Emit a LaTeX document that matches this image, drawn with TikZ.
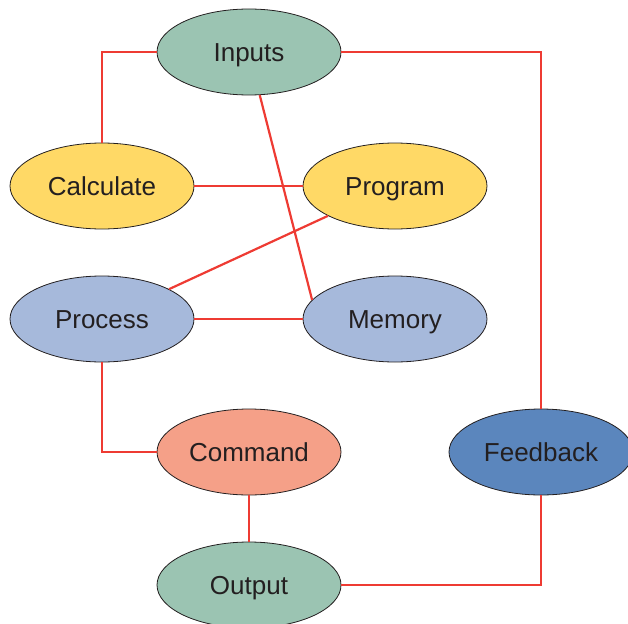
\documentclass[tikz,border=0pt]{standalone}
\usepackage{fontspec}
\setmainfont{Liberation Sans}
\usepackage{xcolor}
\usepackage{tikz}
\usetikzlibrary{shapes.geometric}

\definecolor{sage}{HTML}{9BC4B2}
\definecolor{butter}{HTML}{FFD966}
\definecolor{lavblue}{HTML}{A6B9DB}
\definecolor{salmon}{HTML}{F5A088}
\definecolor{steel}{HTML}{5B86BD}
\definecolor{linkred}{HTML}{EE3B33}
\definecolor{ink}{HTML}{231F20}

\begin{document}
\begin{tikzpicture}[x=1pt, y=-1pt, font=\fontsize{26}{30}\selectfont,
  blob/.style={ellipse, draw=ink, line width=0.8pt, text=ink, inner sep=0pt, text height=18.6pt, text depth=0pt, minimum width=184pt, minimum height=86pt},
  link/.style={draw=linkred, line width=2.2pt}]
\path[use as bounding box, clip] (0,0) rectangle (628,623);
\node[blob, fill=sage] (inputs) at (249,52) {Inputs};
\node[blob, fill=butter] (calc) at (102,186) {Calculate};
\node[blob, fill=butter] (prog) at (395,186) {Program};
\node[blob, fill=lavblue] (process) at (102,319) {Process};
\node[blob, fill=lavblue] (memory) at (395,319) {Memory};
\node[blob, fill=salmon] (command) at (249,452) {Command};
\node[blob, fill=steel] (feedback) at (541,452) {Feedback};
\node[blob, fill=sage] (output) at (249,585) {Output};
\path[link] (inputs) -| (calc); \path[link] (inputs) -| (feedback);
\path[link] (inputs.284) -- (memory.167); \path[link] (calc) -- (prog);
\path[link] (prog.204) -- (process.24); \path[link] (process) -- (memory);
\path[link] (process) |- (command); \path[link] (command) -- (output);
\path[link] (output) -| (feedback);
\end{tikzpicture}
\end{document}
